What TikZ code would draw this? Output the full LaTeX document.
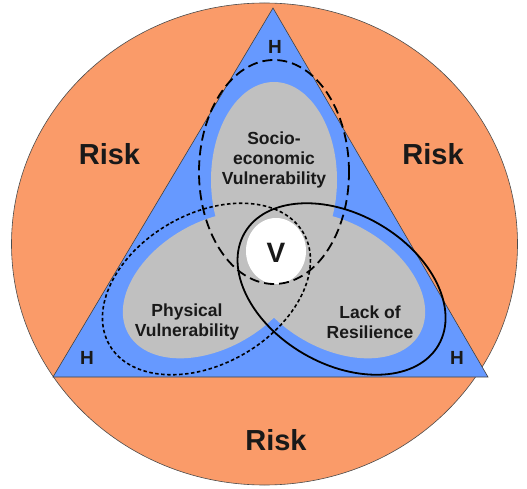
\documentclass[tikz,border=0pt]{standalone}
\usepackage{fontspec}
\setmainfont{Liberation Sans}
\definecolor{riskorange}{RGB}{250,155,105}
\definecolor{hazblue}{RGB}{102,153,255}
\definecolor{vulgray}{RGB}{192,192,192}
\definecolor{textcol}{RGB}{25,25,25}
\begin{document}
\begin{tikzpicture}[x=1pt,y=1pt,
  risklabel/.style={text=textcol,font=\fontsize{29}{32}\selectfont\bfseries},
  hlabel/.style={text=textcol,font=\fontsize{19}{21}\selectfont\bfseries},
  vullabel/.style={text=textcol,align=center,font=\fontsize{17.5}{20}\selectfont\bfseries},
  vlabel/.style={text=textcol,font=\fontsize{28}{30}\selectfont\bfseries},
  sociostyle/.style={draw=black,line width=1.8pt,dash pattern=on 10pt off 5pt},
  physstyle/.style={draw=black,line width=1.6pt,dash pattern=on 3.5pt off 2.5pt},
  resilstyle/.style={draw=black,line width=1.8pt},
  ell/.style={x radius=75,y radius=112},
  gell/.style={x radius=63,y radius=98}]
\useasboundingbox (0,0) rectangle (527,488);
\coordinate (C) at (274,238);
% risk ellipse
\filldraw[fill=riskorange,draw=gray!60!black,line width=0.6pt] (264.5,244) ellipse [x radius=253,y radius=241];
% hazard triangle
\filldraw[fill=hazblue,draw=gray!50!black,line width=0.6pt] (273,480) -- (488,111) -- (53,111) -- cycle;
% gray vulnerability areas
\fill[vulgray] (274,308) ellipse [gell];
\fill[vulgray,rotate around={120:(C)}] (274,308) ellipse [gell];
\fill[vulgray,rotate around={-120:(C)}] (274,308) ellipse [gell];
\fill[vulgray] (C) circle (40);
% white intersection
\begin{scope}
  \clip (274,316) ellipse [ell];
  \clip[rotate around={120:(C)}] (274,316) ellipse [ell];
  \clip[rotate around={-120:(C)}] (274,316) ellipse [ell];
  \fill[white] (276,237) ellipse [x radius=30,y radius=33];
\end{scope}
% outlines
\draw[sociostyle] (274,316) ellipse [ell];
\draw[physstyle,rotate around={120:(C)}] (274,316) ellipse [ell];
\draw[resilstyle,rotate around={-120:(C)}] (274,316) ellipse [ell];
% labels
\node[risklabel] (riskL) at (109.5,334) {Risk};
\node[risklabel] (riskR) at (433,334) {Risk};
\node[risklabel] (riskB) at (276,48) {Risk};
\node[hlabel] (hT) at (275,441) {H};
\node[hlabel] (hL) at (87,130) {H};
\node[hlabel] (hR) at (457,130) {H};
\node[vullabel] (socio) at (274,328) {Socio-\\economic\\Vulnerability};
\node[vullabel] (phys) at (187,166) {Physical\\Vulnerability};
\node[vullabel] (resil) at (370,166) {Lack of\\Resilience};
\node[vlabel] (V) at (276,235) {V};
\end{tikzpicture}
\end{document}
